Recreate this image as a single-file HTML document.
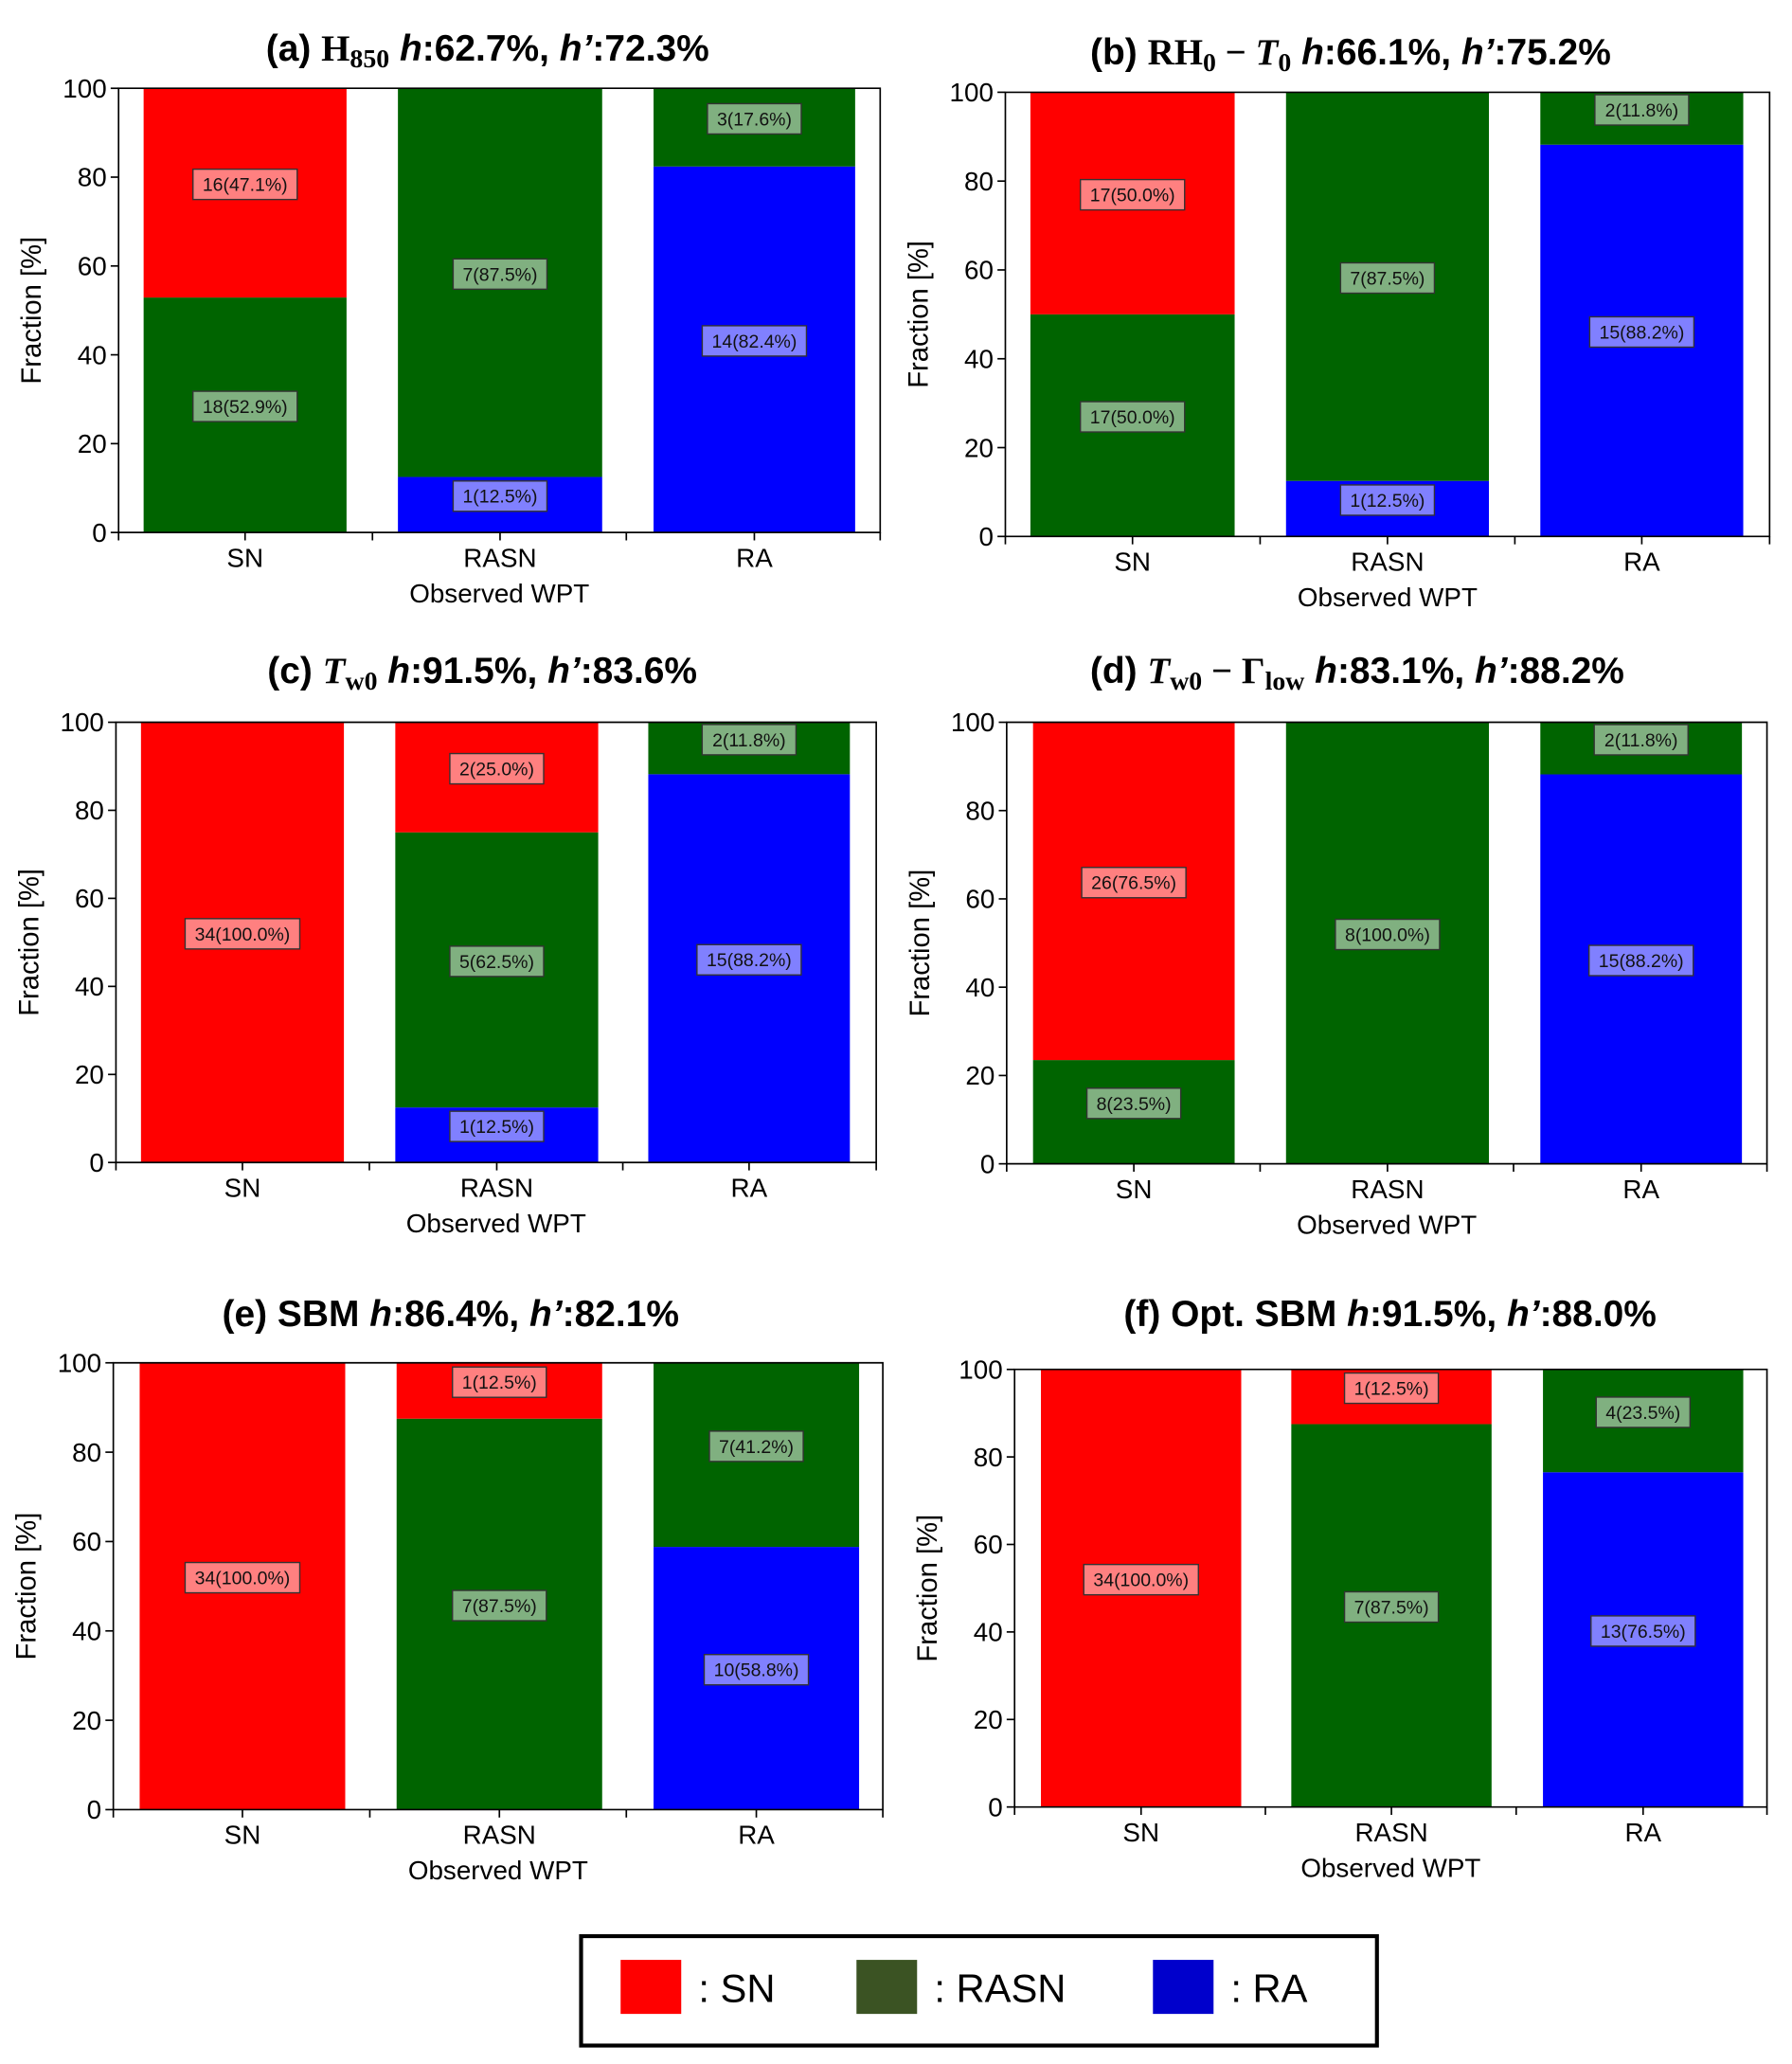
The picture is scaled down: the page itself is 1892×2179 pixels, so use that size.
<!DOCTYPE html>
<html><head><meta charset="utf-8"><style>
html,body{margin:0;padding:0;background:#fff;}
svg{display:block;font-family:"Liberation Sans","DejaVu Sans",sans-serif;}
</style></head><body>
<svg id="fig" width="1892" height="2179" viewBox="0 0 1360 1566" preserveAspectRatio="none" xmlns="http://www.w3.org/2000/svg">
<g>
<rect x="441" y="1469" width="604" height="83" fill="#fff" stroke="#000" stroke-width="3"/>
<rect x="471" y="1487" width="46" height="41" fill="#ff0000"/>
<text x="530" y="1519" font-size="30">: SN</text>
<rect x="650" y="1487" width="46" height="41" fill="#3b5323"/>
<text x="709" y="1519" font-size="30">: RASN</text>
<rect x="875" y="1487" width="46" height="41" fill="#0000cc"/>
<text x="934" y="1519" font-size="30">: RA</text>
</g>
</svg>
<script>
const categories=["SN","RASN","RA"];
const yTicks=[0,20,40,60,80,100];
// per panel, per category: [blue RA, green RASN, red SN] counts and percents
const countsA=[[0,18,16],[1,7,0],[14,3,0]];
const pctA=[[0,52.9,47.1],[12.5,87.5,0],[82.4,17.6,0]];
const countsB=[[0,17,17],[1,7,0],[15,2,0]];
const pctB=[[0,50.0,50.0],[12.5,87.5,0],[88.2,11.8,0]];
const countsC=[[0,0,34],[1,5,2],[15,2,0]];
const pctC=[[0,0,100.0],[12.5,62.5,25.0],[88.2,11.8,0]];
const countsD=[[0,8,26],[0,8,0],[15,2,0]];
const pctD=[[0,23.5,76.5],[0,100.0,0],[88.2,11.8,0]];
const countsE=[[0,0,34],[0,7,1],[10,7,0]];
const pctE=[[0,0,100.0],[0,87.5,12.5],[58.8,41.2,0]];
const countsF=[[0,0,34],[0,7,1],[13,4,0]];
const pctF=[[0,0,100.0],[0,87.5,12.5],[76.5,23.5,0]];

const NS="http://www.w3.org/2000/svg";
const svg=document.getElementById('fig');
function mk(tag,attrs,parent){const e=document.createElementNS(NS,tag);for(const k in attrs)e.setAttribute(k,attrs[k]);parent.appendChild(e);return e;}
const fills=["#0000ff","#006400","#ff0000"];
const boxFills=["#8080ff","#80b080","#ff8080"];
const segNames=["ra","rasn","sn"];
const panels=[
 {id:"a",x0:90,x1:668,y0:67,y1:404,bars:[[109,263],[302,457],[496,649]],tx:370,ty:46,title:[["(a) ",""],["H","serif"],["850","sub"],["  h",'i'],[":62.7%, ",""],["h’",'i'],[":72.3%",""]],c:countsA,p:pctA},
 {id:"b",x0:763,x1:1343,y0:70,y1:407,bars:[[782,937],[976,1130],[1169,1323]],tx:1025,ty:49,title:[["(b) ",""],["RH","serif"],["0","sub"],[" − ","serif"],["T","si"],["0","sub"],["  h",'i'],[":66.1%, ",""],["h’",'i'],[":75.2%",""]],c:countsB,p:pctB},
 {id:"c",x0:88,x1:665,y0:548,y1:882,bars:[[107,261],[300,454],[492,645]],tx:366,ty:518,title:[["(c) ",""],["T","si"],["w0","sub"],["  h",'i'],[":91.5%, ",""],["h’",'i'],[":83.6%",""]],c:countsC,p:pctC},
 {id:"d",x0:764,x1:1341,y0:548,y1:883,bars:[[784,937],[976,1130],[1169,1322]],tx:1030,ty:518,title:[["(d) ",""],["T","si"],["w0","sub"],[" − Γ","serif"],["low","sub"],["  h",'i'],[":83.1%, ",""],["h’",'i'],[":88.2%",""]],c:countsD,p:pctD},
 {id:"e",x0:86,x1:670,y0:1034,y1:1373,bars:[[106,262],[301,457],[496,652]],tx:342,ty:1006,title:[["(e) SBM  ",""],["h",'i'],[":86.4%, ",""],["h’",'i'],[":82.1%",""]],c:countsE,p:pctE},
 {id:"f",x0:770,x1:1341,y0:1039,y1:1371,bars:[[790,942],[980,1132],[1171,1323]],tx:1055,ty:1006,title:[["(f) Opt. SBM  ",""],["h",'i'],[":91.5%, ",""],["h’",'i'],[":88.0%",""]],c:countsF,p:pctF}
];
panels.forEach(P=>{
 const g=mk('g',{},svg);
 
 
 const ys=v=>P.y1-(v/100)*(P.y1-P.y0);
 const t=mk('text',{x:P.tx,y:P.ty,'text-anchor':'middle','font-size':28,'font-weight':'bold'},g);
 
 
 P.title.forEach(([s,st])=>{
  const sp=mk('tspan',{},t);sp.textContent=s;
  if(st==='serif'){sp.setAttribute('font-family','Liberation Serif, serif');}
  if(st==='i'){sp.setAttribute('font-style','italic');}
  if(st==='si'){sp.setAttribute('font-family','Liberation Serif, serif');sp.setAttribute('font-style','italic');}
  if(st==='sub'){sp.setAttribute('font-family','Liberation Serif, serif');sp.setAttribute('font-size','20');sp.setAttribute('baseline-shift','-25%');}
 });
 P.bars.forEach((b,ci)=>{
  let acc=0;
  for(let s=0;s<3;s++){
   const v=P.p[ci][s]; if(v<=0) continue;
   const r=mk('rect',{x:b[0],y:ys(acc+v),width:b[1]-b[0],height:ys(acc)-ys(acc+v),fill:fills[s]},g);
   
   
   acc+=v;
  }
 });
 P.bars.forEach((b,ci)=>{
  let acc=0;
  for(let s=0;s<3;s++){
   const v=P.p[ci][s]; if(v<=0) continue;
   const cy=ys(acc+v/2)-7, cx=(b[0]+b[1])/2;
   const label=P.c[ci][s]+'('+v.toFixed(1)+'%)';
   const w=label.length*7.9+8;
   const lg=mk('g',{},g);
   
   
   mk('rect',{x:cx-w/2,y:cy-11,width:w,height:23,fill:boxFills[s],stroke:'#333','stroke-width':1},lg);
   const tx=mk('text',{x:cx,y:cy+5.5,'text-anchor':'middle','font-size':14,fill:'#111'},lg);
   tx.textContent=label;
   acc+=v;
  }
 });
 const ax=mk('path',{d:`M${P.x0},${P.y0}H${P.x1}V${P.y1}H${P.x0}Z`,fill:'none',stroke:'#000','stroke-width':1.2},g);
 
 
 yTicks.forEach(v=>{
  const y=ys(v);
  mk('line',{x1:P.x0-6,x2:P.x0,y1:y,y2:y,stroke:'#000','stroke-width':1.2},g);
  const tt=mk('text',{x:P.x0-9,y:y+7,'text-anchor':'end','font-size':20},g);
  
  
  tt.textContent=v;
 });
 const step=(P.x1-P.x0)/3;
 for(let k=0;k<=3;k++){mk('line',{x1:P.x0+k*step,x2:P.x0+k*step,y1:P.y1,y2:P.y1+6,stroke:'#000','stroke-width':1.2},g);}
 categories.forEach((c,ci)=>{
  const cx=(P.bars[ci][0]+P.bars[ci][1])/2;
  mk('line',{x1:cx,x2:cx,y1:P.y1,y2:P.y1+6,stroke:'#000','stroke-width':1.2},g);
  const xt=mk('text',{x:cx,y:P.y1+26,'text-anchor':'middle','font-size':20},g);
  
  
  xt.textContent=c;
 });
 const xl=mk('text',{x:(P.x0+P.x1)/2,y:P.y1+53,'text-anchor':'middle','font-size':20},g);
 
 
 xl.textContent='Observed WPT';
 const ym=(P.y0+P.y1)/2, yx=P.x0-59;
 const yl=mk('text',{x:yx,y:ym,'text-anchor':'middle','font-size':21,transform:`rotate(-90 ${yx} ${ym})`},g);
 
 
 yl.textContent='Fraction [%]';
});
</script>
</body></html>
